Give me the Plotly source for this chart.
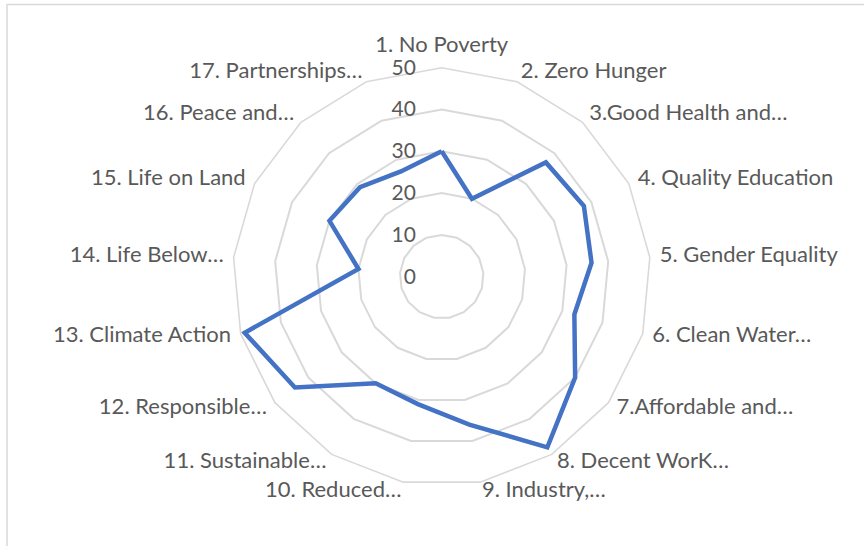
import plotly.graph_objects as go

# SDG radar data
goals = [
    "1. No Poverty", "2. Zero Hunger", "3.Good Health and…", "4. Quality Education",
    "5. Gender Equality", "6. Clean Water…", "7.Affordable and…", "8. Decent WorK…",
    "9. Industry,…", "10. Reduced…", "11. Sustainable…", "12. Responsible…",
    "13. Climate Action", "14. Life Below…", "15. Life on Land", "16. Peace and…",
    "17. Partnerships…",
]
scores = [30, 20, 37, 38, 36, 33, 40, 48, 36, 31, 30, 44, 49, 20, 30, 29, 27]
radial_ticks = [0, 10, 20, 30, 40, 50]
r_max = 50

W, H = 864, 546
cx, cy, R = 441.7, 276.7, 209
R_lab = R + 10  # ring on which the category labels hang


def dom(rad):
    return dict(x=[(cx - rad) / W, (cx + rad) / W],
                y=[(H - cy - rad) / H, (H - cy + rad) / H])


# Excel style: left-aligned on the right half, right-aligned on the left half
n = len(goals)
label_pos = []
for i in range(n):
    if i == 0:
        label_pos.append("top center")
    elif i <= n // 2:
        label_pos.append("middle right")
    else:
        label_pos.append("middle left")

fig = go.Figure()
fig.add_trace(go.Scatterpolar(
    r=scores + scores[:1],
    theta=goals + goals[:1],
    mode="lines",
    line=dict(color="#4472C4", width=4.5),
    showlegend=False,
    hoverinfo="skip",
))
# category labels on a slightly larger, invisible polar
fig.add_trace(go.Scatterpolar(
    r=[r_max] * n,
    theta=goals,
    text=goals,
    mode="text",
    textposition=label_pos,
    textfont=dict(size=22, color="#595959", family="Lato"),
    cliponaxis=False,
    showlegend=False,
    hoverinfo="skip",
    subplot="polar2",
))

grid = "#D9D9D9"
fig.update_layout(
    width=W, height=H,
    margin=dict(l=0, r=0, t=0, b=0),
    paper_bgcolor="white",
    font=dict(family="Lato", color="#595959", size=22),
    polar=dict(
        domain=dom(R),
        gridshape="linear",
        bgcolor="white",
        radialaxis=dict(
            range=[0, r_max], tickvals=radial_ticks, angle=90, tickangle=90,
            side="counterclockwise", showline=False,
            ticks="outside", ticklen=18, tickcolor="rgba(0,0,0,0)",
            gridcolor=grid, gridwidth=1.6,
            tickfont=dict(size=21, color="#595959"),
        ),
        angularaxis=dict(
            direction="clockwise", rotation=90, showgrid=False,
            linecolor=grid, linewidth=1.6, ticks="", showticklabels=False,
        ),
    ),
    polar2=dict(
        domain=dom(R_lab),
        bgcolor="rgba(0,0,0,0)",
        radialaxis=dict(range=[0, r_max], visible=False),
        angularaxis=dict(direction="clockwise", rotation=90, visible=False,
                         categoryorder="array", categoryarray=goals),
    ),
)

# chart area border (left and top edges visible)
fig.add_shape(type="rect", xref="paper", yref="paper",
              x0=7 / W, x1=1.05, y0=-0.05, y1=1 - 4.5 / H,
              line=dict(color="#D9D9D9", width=1.5), fillcolor="rgba(0,0,0,0)")

fig.write_html("out.html", config={"displayModeBar": False},
               post_script="document.body.style.margin='0';document.body.style.overflow='hidden';")
